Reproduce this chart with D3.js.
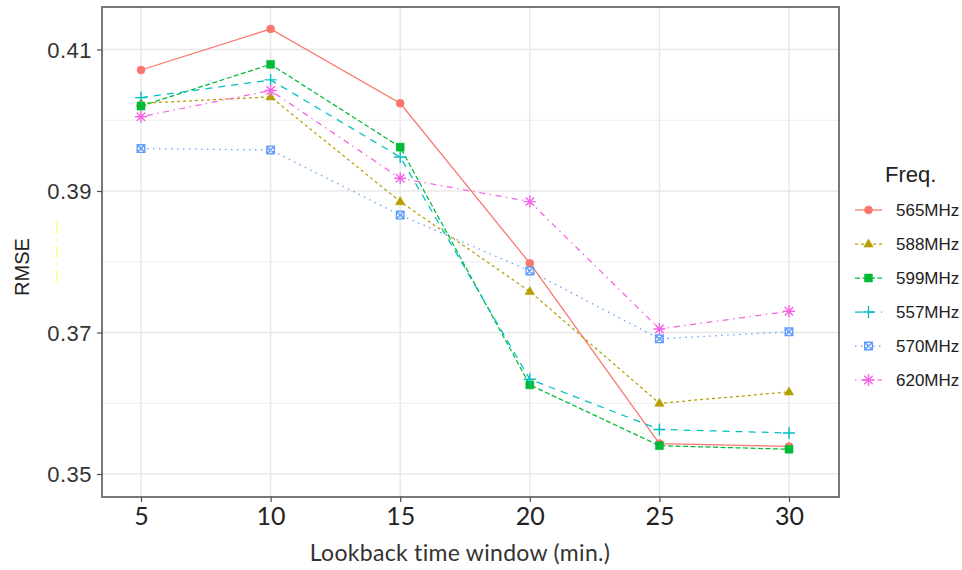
<!DOCTYPE html>
<html>
<head>
<meta charset="utf-8">
<script src="https://cdn.jsdelivr.net/npm/d3@7"></script>
<style>
  html, body { margin: 0; padding: 0; background: #fff; }
  svg { display: block; }
</style>
</head>
<body>
<svg id="chart" width="962" height="570"></svg>
<script>
// Lookback windows (minutes) on the x axis
const windows = [5, 10, 15, 20, 25, 30];

// RMSE per frequency, one value per lookback window
const freqNames = ["565MHz", "588MHz", "599MHz", "557MHz", "570MHz", "620MHz"];
const rmse565 = [0.4071, 0.4129, 0.4024, 0.3798, 0.3543, 0.3539];
const rmse588 = [0.4024, 0.4033, 0.3885, 0.3758, 0.3600, 0.3616];
const rmse599 = [0.4020, 0.4079, 0.3962, 0.3626, 0.3540, 0.3535];
const rmse557 = [0.4032, 0.4057, 0.3948, 0.3634, 0.3563, 0.3558];
const rmse570 = [0.3960, 0.3958, 0.3866, 0.3787, 0.3691, 0.3701];
const rmse620 = [0.4005, 0.4042, 0.3918, 0.3885, 0.3705, 0.3730];

const yTicks = [0.35, 0.37, 0.39, 0.41];
const yMinor = [0.36, 0.38, 0.40];

const colors = ["#F8766D", "#B79F00", "#00BA38", "#00BFC4", "#619CFF", "#F564E3"];
const dashes = [null, "3,3", "5,2.5", "7,6", "1.5,4.5", "1.5,4.5,6,4.5"];
const shapes = ["circle", "triangle", "square", "plus", "squarecross", "asterisk"];

const series = freqNames.map((name, i) => ({
  name,
  values: [rmse565, rmse588, rmse599, rmse557, rmse570, rmse620][i],
  color: colors[i], dash: dashes[i], shape: shapes[i]
}));

const svg = d3.select("#chart");
const panel = { left: 102, right: 839, top: 7, bottom: 497 };

const x = d3.scaleLinear().domain([5, 30]).range([141, 789]);
const y = d3.scaleLinear().domain([0.35, 0.41]).range([474, 49.5]);

// grid
const grid = svg.append("g");
grid.selectAll("line.ymin").data(yMinor).join("line")
  .attr("x1", panel.left).attr("x2", panel.right)
  .attr("y1", d => y(d)).attr("y2", d => y(d))
  .attr("stroke", "#ededed").attr("stroke-width", 1);
grid.selectAll("line.ymaj").data(yTicks).join("line")
  .attr("x1", panel.left).attr("x2", panel.right)
  .attr("y1", d => y(d)).attr("y2", d => y(d))
  .attr("stroke", "#e8e8e8").attr("stroke-width", 1.5);
grid.selectAll("line.xmaj").data(windows).join("line")
  .attr("y1", panel.top).attr("y2", panel.bottom)
  .attr("x1", d => x(d)).attr("x2", d => x(d))
  .attr("stroke", "#e8e8e8").attr("stroke-width", 1.5);

// symbol paths centred on the origin
function shapePath(shape) {
  const p = d3.path();
  if (shape === "circle") {
    p.arc(0, 0, 4, 0, 2 * Math.PI);
  } else if (shape === "triangle") {
    const s = 5;
    p.moveTo(0, -s); p.lineTo(s * 0.95, s * 0.62); p.lineTo(-s * 0.95, s * 0.62); p.closePath();
  } else if (shape === "square") {
    p.rect(-4, -4, 8, 8);
  } else if (shape === "plus") {
    p.moveTo(-6, 0); p.lineTo(6, 0); p.moveTo(0, -6); p.lineTo(0, 6);
  } else if (shape === "squarecross") {
    p.rect(-3.8, -3.8, 7.6, 7.6);
    p.moveTo(-3.8, -3.8); p.lineTo(3.8, 3.8); p.moveTo(3.8, -3.8); p.lineTo(-3.8, 3.8);
  } else if (shape === "asterisk") {
    const a = 6, b = 4.2;
    p.moveTo(-a, 0); p.lineTo(a, 0); p.moveTo(0, -a); p.lineTo(0, a);
    p.moveTo(-b, -b); p.lineTo(b, b); p.moveTo(b, -b); p.lineTo(-b, b);
  }
  return p.toString();
}
const filled = s => s === "circle" || s === "triangle" || s === "square";

function drawSymbol(g, s, cx, cy) {
  g.append("path")
    .attr("transform", `translate(${cx},${cy})`)
    .attr("d", shapePath(s.shape))
    .attr("fill", filled(s.shape) ? s.color : "none")
    .attr("stroke", s.color)
    .attr("stroke-width", filled(s.shape) ? 0.5 : 1.4);
}

// lines
const line = d3.line().x((d, i) => x(windows[i])).y(d => y(d));
const plot = svg.append("g");
series.forEach(s => {
  plot.append("path")
    .attr("d", line(s.values))
    .attr("fill", "none")
    .attr("stroke", s.color)
    .attr("stroke-width", 1.25)
    .attr("stroke-dasharray", s.dash);
});
series.forEach(s => {
  s.values.forEach((v, i) => drawSymbol(plot, s, x(windows[i]), y(v)));
});

// panel border
svg.append("rect")
  .attr("x", panel.left).attr("y", panel.top)
  .attr("width", panel.right - panel.left).attr("height", panel.bottom - panel.top)
  .attr("fill", "none").attr("stroke", "#4d4d4d").attr("stroke-width", 1.5);

// y axis
const yAxis = svg.append("g")
  .attr("transform", `translate(${panel.left},0)`)
  .call(d3.axisLeft(y).tickValues(yTicks).tickSize(5).tickPadding(5).tickFormat(d3.format(".2f")));
yAxis.select(".domain").remove();
yAxis.selectAll(".tick line").attr("stroke", "#4d4d4d").attr("stroke-width", 1.2);
yAxis.selectAll(".tick text")
  .attr("font-family", "'Liberation Sans', Arial, sans-serif")
  .attr("font-size", 22).attr("fill", "#333").attr("dy", "0.35em")
  .attr("letter-spacing", 0.5);

// x axis
const xAxis = svg.append("g")
  .attr("transform", `translate(0,${panel.bottom})`)
  .call(d3.axisBottom(x).tickValues(windows).tickSize(5).tickPadding(5).tickFormat(d3.format("d")));
xAxis.select(".domain").remove();
xAxis.selectAll(".tick line").attr("stroke", "#4d4d4d").attr("stroke-width", 1.2);
xAxis.selectAll(".tick text")
  .attr("font-family", "Lato, 'Open Sans', sans-serif")
  .attr("font-size", 25).attr("fill", "#222").attr("dy", "0.72em");

// axis titles
svg.append("text")
  .attr("x", 460).attr("y", 561)
  .attr("text-anchor", "middle")
  .attr("font-family", "Lato, 'Open Sans', sans-serif")
  .attr("font-size", 23).attr("fill", "#333")
  .attr("letter-spacing", 0.3)
  .text("Lookback time window (min.)");

svg.append("text")
  .attr("transform", "translate(29,267) rotate(-90)")
  .attr("text-anchor", "middle")
  .attr("font-family", "'Liberation Sans', Arial, sans-serif")
  .attr("font-size", 20).attr("fill", "#222")
  .text("RMSE");

// faint yellow stroke beside the y title
svg.append("line")
  .attr("x1", 57).attr("x2", 57).attr("y1", 221).attr("y2", 282)
  .attr("stroke", "#ffff70").attr("stroke-width", 1.2)
  .attr("stroke-dasharray", "14,4,2,4");

// legend
const legend = svg.append("g");
legend.append("text")
  .attr("x", 885).attr("y", 182)
  .attr("font-family", "'Liberation Sans', Arial, sans-serif")
  .attr("font-size", 22).attr("fill", "#222")
  .text("Freq.");

const rowY = d3.scalePoint().domain(freqNames).range([210, 380]);
series.forEach(s => {
  const ry = rowY(s.name);
  legend.append("line")
    .attr("x1", 855).attr("x2", 882).attr("y1", ry).attr("y2", ry)
    .attr("stroke", s.color).attr("stroke-width", 1.25)
    .attr("stroke-dasharray", s.dash);
  drawSymbol(legend, s, 868.5, ry);
  legend.append("text")
    .attr("x", 896).attr("y", ry).attr("dy", "0.36em")
    .attr("font-family", "'Liberation Sans', Arial, sans-serif")
    .attr("font-size", 17).attr("fill", "#222")
    .text(s.name);
});
</script>
</body>
</html>
